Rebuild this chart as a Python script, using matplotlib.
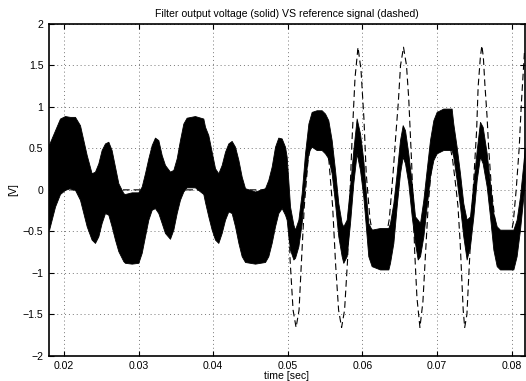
import matplotlib
matplotlib.use("Agg")
import matplotlib.pyplot as plt

# ---- data ----
# solid trace (filter output): envelope of the switching ripple band
t_out = [0.0180, 0.0188, 0.01946, 0.02013, 0.0208, 0.02147, 0.02214, 0.02259, 0.02304, 0.0237,
         0.02415, 0.0246, 0.02504, 0.02549, 0.02594, 0.02638, 0.02683, 0.02728, 0.02795, 0.02817,
         0.02907, 0.02996, 0.03041, 0.03085, 0.0313, 0.03175, 0.03219, 0.03264, 0.03309, 0.03353,
         0.0342, 0.03465, 0.0351, 0.03554, 0.03599, 0.03643, 0.03755, 0.03867, 0.0389, 0.03934,
         0.03979, 0.04024, 0.04068, 0.04113, 0.04158, 0.04202, 0.04247, 0.04292, 0.04337, 0.04381,
         0.04426, 0.0456, 0.04694, 0.04738, 0.04783, 0.04828, 0.04872, 0.04917, 0.04962, 0.04984,
         0.05007, 0.05029, 0.05074, 0.05096, 0.05141, 0.05185, 0.0523, 0.05275, 0.05319, 0.05386,
         0.05453, 0.05498, 0.05542, 0.05587, 0.05632, 0.05676, 0.05721, 0.05743, 0.05788, 0.05833,
         0.05877, 0.05922, 0.05967, 0.06011, 0.06034, 0.06056, 0.06078, 0.06123, 0.06235, 0.06347,
         0.06369, 0.06414, 0.06458, 0.06503, 0.06539, 0.0657, 0.06614, 0.0666, 0.06704, 0.0674,
         0.06771, 0.06816, 0.0686, 0.06905, 0.0695, 0.06994, 0.07083, 0.07195, 0.07217, 0.07262,
         0.07307, 0.07351, 0.07396, 0.07441, 0.07486, 0.07531, 0.07575, 0.07611, 0.07665, 0.07709,
         0.07754, 0.07799, 0.07843, 0.08022, 0.08066, 0.08111, 0.08156, 0.08174]
out_hi = [0.55, 0.72, 0.86, 0.89, 0.88, 0.88, 0.78, 0.60, 0.42, 0.20,
          0.22, 0.32, 0.48, 0.56, 0.58, 0.48, 0.28, 0.08, -0.04, -0.05,
          -0.03, -0.03, 0.04, 0.20, 0.38, 0.54, 0.63, 0.60, 0.42, 0.30,
          0.22, 0.24, 0.38, 0.60, 0.80, 0.87, 0.89, 0.86, 0.76, 0.66,
          0.46, 0.26, 0.20, 0.30, 0.46, 0.56, 0.59, 0.52, 0.36, 0.16,
          0.02, -0.02, 0.02, 0.12, 0.28, 0.52, 0.63, 0.62, 0.52, 0.40,
          0.10, -0.20, -0.42, -0.48, -0.36, -0.04, 0.44, 0.80, 0.94, 0.96,
          0.96, 0.92, 0.84, 0.60, 0.24, -0.16, -0.40, -0.44, -0.36, 0.04,
          0.48, 0.86, 0.68, 0.36, 0.10, -0.16, -0.40, -0.48, -0.46, -0.46,
          -0.40, -0.16, 0.20, 0.60, 0.78, 0.72, 0.44, 0.08, -0.32, -0.36,
          -0.40, -0.12, 0.24, 0.60, 0.84, 0.94, 0.98, 0.98, 0.80, 0.52,
          0.20, -0.16, -0.36, -0.32, 0.08, 0.48, 0.82, 0.76, 0.44, 0.08,
          -0.28, -0.44, -0.48, -0.48, -0.36, -0.08, 0.32, 0.50]
out_lo = [-0.48, -0.20, -0.05, 0.00, 0.02, 0.00, -0.12, -0.28, -0.44, -0.60,
          -0.64, -0.56, -0.40, -0.28, -0.30, -0.44, -0.60, -0.74, -0.86, -0.88,
          -0.89, -0.88, -0.76, -0.56, -0.36, -0.24, -0.22, -0.28, -0.40, -0.52,
          -0.59, -0.48, -0.28, -0.12, -0.02, 0.03, 0.03, -0.05, -0.15, -0.32,
          -0.48, -0.60, -0.64, -0.52, -0.36, -0.26, -0.28, -0.44, -0.64, -0.80,
          -0.87, -0.89, -0.87, -0.80, -0.64, -0.44, -0.28, -0.22, -0.30, -0.36,
          -0.56, -0.72, -0.84, -0.82, -0.68, -0.40, 0.08, 0.46, 0.52, 0.48,
          0.48, 0.44, 0.38, 0.20, -0.16, -0.56, -0.80, -0.88, -0.80, -0.40,
          0.08, 0.44, 0.24, -0.08, -0.32, -0.56, -0.80, -0.92, -0.96, -0.96,
          -0.88, -0.64, -0.20, 0.20, 0.40, 0.32, 0.08, -0.32, -0.64, -0.84,
          -0.80, -0.56, -0.20, 0.16, 0.36, 0.44, 0.48, 0.48, 0.40, 0.12,
          -0.20, -0.56, -0.84, -0.68, -0.32, 0.12, 0.40, 0.32, 0.04, -0.32,
          -0.72, -0.92, -0.96, -0.96, -0.80, -0.48, -0.08, 0.10]

# dashed trace (reference signal)
t_ref = [0.0180, 0.0500, 0.0503, 0.0507, 0.0511, 0.0515, 0.0518, 0.0522, 0.0527, 0.0533,
         0.0541, 0.0549, 0.0555, 0.0560, 0.0564, 0.0568, 0.0572, 0.0576, 0.0580, 0.0583,
         0.0586, 0.0590, 0.0594, 0.0598, 0.0602, 0.0605, 0.0610, 0.0616, 0.0623, 0.0630,
         0.0636, 0.0641, 0.0645, 0.0648, 0.0651, 0.0655, 0.0659, 0.0662, 0.0666, 0.0670,
         0.0673, 0.0677, 0.0681, 0.0684, 0.0688, 0.0693, 0.0699, 0.0707, 0.0715, 0.0721,
         0.0725, 0.0728, 0.0731, 0.0733, 0.0735, 0.0737, 0.0740, 0.0742, 0.0744, 0.0748,
         0.0753, 0.0755, 0.0758, 0.0760, 0.0762, 0.0764, 0.0767, 0.0769, 0.0773, 0.0778,
         0.0784, 0.0790, 0.0796, 0.0802, 0.0806, 0.0810, 0.0813, 0.0815, 0.0817]
v_ref = [0.0, 0.0, -0.85, -1.45, -1.66, -1.45, -0.90, -0.20, 0.35, 0.65,
         0.75, 0.65, 0.35, -0.20, -0.90, -1.45, -1.66, -1.45, -0.85, -0.10,
         0.60, 1.35, 1.72, 1.45, 0.85, 0.20, -0.35, -0.65, -0.75, -0.65,
         -0.35, 0.20, 0.70, 1.05, 1.50, 1.72, 1.50, 1.10, 0.30, -0.75,
         -1.30, -1.66, -1.35, -0.85, -0.20, 0.35, 0.65, 0.75, 0.65, 0.35,
         0.05, -0.20, -0.65, -1.05, -1.45, -1.66, -1.50, -1.12, -0.76, -0.05,
         0.72, 1.24, 1.60, 1.74, 1.60, 1.28, 0.88, 0.52, 0.00, -0.40,
         -0.65, -0.75, -0.65, -0.40, 0.00, 0.50, 1.05, 1.35, 1.65]

x_ticks = [0.02, 0.03, 0.04, 0.05, 0.06, 0.07, 0.08]
x_tick_labels = ["0.02", "0.03", "0.04", "0.05", "0.06", "0.07", "0.08"]
y_ticks = [-2, -1.5, -1, -0.5, 0, 0.5, 1, 1.5, 2]
y_tick_labels = ["\u22122", "\u22121.5", "\u22121", "\u22120.5", "0", "0.5", "1", "1.5", "2"]

title = "Filter output voltage (solid) VS reference signal (dashed)"
xlabel = "time [sec]"
ylabel = "[V]"

# ---- drawing ----
plt.rcParams['font.family'] = ['Liberation Sans', 'DejaVu Sans']
fs = 7.6
fig = plt.figure(figsize=(5.26, 3.81), dpi=100)
ax = fig.add_axes([0.0932, 0.0664, 0.9043, 0.8706])

ax.plot(t_ref, v_ref, color='black', linewidth=0.8, linestyle=(0, (6, 3.5)), zorder=2)
ax.fill_between(t_out, out_lo, out_hi, color='black', linewidth=0.6, edgecolor='black', zorder=3)

ax.set_xlim(0.01799, 0.08174)
ax.set_ylim(-2, 2)
ax.set_xticks(x_ticks)
ax.set_xticklabels(x_tick_labels)
ax.set_yticks(y_ticks)
ax.set_yticklabels(y_tick_labels)
ax.grid(True, linestyle=(0, (1, 3)), color='#777777', linewidth=0.7)
ax.tick_params(direction='in', length=3.5, width=0.8, labelsize=fs, top=True, right=True, pad=4)
for s in ax.spines.values():
    s.set_linewidth(1.2)
ax.set_title(title, fontsize=fs, pad=5)
ax.set_xlabel(xlabel, fontsize=fs, labelpad=0)
ax.set_ylabel(ylabel, fontsize=fs, labelpad=3)

fig.savefig("out.png", dpi=100)
